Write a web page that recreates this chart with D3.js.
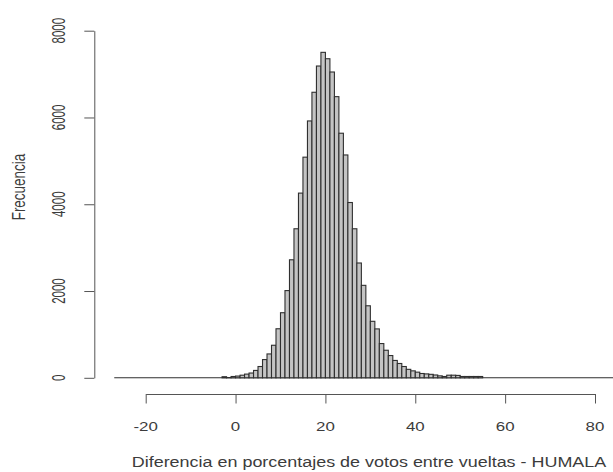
<!DOCTYPE html>
<head>
    <style>
        body{ margin:0; background:#fff; }
        svg{ display:block; }
        .lbl{ font-family:'Liberation Sans', Arial, sans-serif; fill:#3c3c3c; }
        .axis .domain, .axis line{ stroke:#555; stroke-width:1px; }
        .bar{ fill:#c4c4c4; stroke:#2f2f2f; stroke-width:1.1px; }
        .base{ stroke:#2f2f2f; stroke-width:1.1px; }
    </style>
</head>
<body>
    <div id="chart"></div>
    <script src="https://d3js.org/d3.v7.min.js"></script>
    <script>
        // histogram: bins of width 1, first bin starts at -27
        var binStart = -27;
        var binWidth = 1;
        var counts = [
            0,0,0,0,0,0,0,0,0,0,0,0,0,0,0,0,0,0,0,0,0,0,0,0,      // -27 .. -4
            25,5,30,40,60,85,110,170,260,420,550,750,              // -3 .. 8
            1130,1500,2010,2720,3435,4257,5085,5920,6581,7186,     // 9 .. 18
            7501,7354,7048,6480,5637,5136,4040,3435,2646,2131,     // 19 .. 28
            1660,1302,1127,789,635,513,400,330,260,195,            // 29 .. 38
            160,130,99,90,80,65,45,30,60,60,55,30,30,30,30,30,     // 39 .. 54
            0,0,0,0,0,0,0,0,0,0,0,0,0,0,0,0,0,0,0,0,0,0,0,0,0,0,0,0,0,0  // 55 .. 84
        ];
        var xTicks = [-20, 0, 20, 40, 60, 80];
        var yTicks = [0, 2000, 4000, 6000, 8000];
        var xTitle = "Diferencia en porcentajes de votos entre vueltas - HUMALA";
        var yTitle = "Frecuencia";

        var width = 613, height = 472;
        var stretch = 1.3; // text in the reference is wider than tall

        var bins = counts.map(function(c, i) {
            return {x0: binStart + i * binWidth, x1: binStart + (i + 1) * binWidth, n: c};
        });

        var x = d3.scaleLinear().domain([-20, 80]).range([145.7, 595]);
        var y = d3.scaleLinear().domain([0, 8000]).range([377.8, 30.7]);

        var svg = d3.select("#chart").append("svg")
            .attr("width", width)
            .attr("height", height);

        // empty bins still leave their flat outline along the bottom
        svg.append("line")
            .attr("class", "base")
            .attr("x1", x(binStart))
            .attr("x2", x(binStart + counts.length * binWidth))
            .attr("y1", y(0))
            .attr("y2", y(0));

        // bars
        svg.append("g")
            .selectAll("rect")
            .data(bins.filter(function(d) { return d.n > 0; }))
            .enter().append("rect")
            .attr("class", "bar")
            .attr("x", function(d) { return x(d.x0); })
            .attr("y", function(d) { return y(d.n); })
            .attr("width", function(d) { return x(d.x1) - x(d.x0); })
            .attr("height", function(d) { return y(0) - y(d.n); });

        // y axis
        svg.append("g")
            .attr("class", "axis")
            .attr("transform", "translate(94.3,0)")
            .call(d3.axisLeft(y).tickValues(yTicks).tickSize(10).tickSizeOuter(0).tickFormat(""));

        svg.append("g")
            .selectAll("text")
            .data(yTicks)
            .enter().append("text")
            .attr("class", "lbl")
            .attr("text-anchor", "middle")
            .attr("font-size", "11.5px")
            .attr("transform", function(d) { return "translate(65," + y(d) + ") scale(1.55,1) rotate(-90)"; })
            .text(function(d) { return d; });

        // x axis
        svg.append("g")
            .attr("class", "axis")
            .attr("transform", "translate(0,394)")
            .call(d3.axisBottom(x).tickValues(xTicks).tickSize(9.5).tickSizeOuter(0).tickFormat(""));

        svg.append("g")
            .selectAll("text")
            .data(xTicks)
            .enter().append("text")
            .attr("class", "lbl")
            .attr("text-anchor", "middle")
            .attr("font-size", "13px")
            .attr("transform", function(d) { return "translate(" + x(d) + ",430.7) scale(" + stretch + ",1)"; })
            .text(function(d) { return d; });

        // titles
        svg.append("text")
            .attr("class", "lbl")
            .attr("text-anchor", "middle")
            .attr("font-size", "13.8px")
            .attr("transform", "translate(369,467) scale(" + stretch + ",1)")
            .text(xTitle);

        svg.append("text")
            .attr("class", "lbl")
            .attr("text-anchor", "middle")
            .attr("font-size", "13.5px")
            .attr("transform", "translate(24.5,187) scale(1.3,1) rotate(-90)")
            .text(yTitle);
    </script>
</body>
